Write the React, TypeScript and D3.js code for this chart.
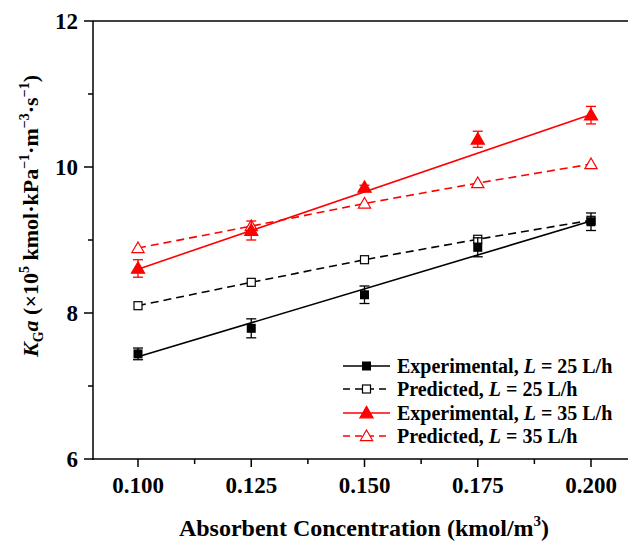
import * as d3 from "d3";

const concentrations = [0.1, 0.125, 0.15, 0.175, 0.2];

const expL25 = [7.44, 7.79, 8.25, 8.9, 9.25];
const expL25Err = [0.08, 0.13, 0.12, 0.13, 0.12];
const predL25 = [8.1, 8.42, 8.73, 9.01, 9.27];

const expL35 = [8.61, 9.13, 9.72, 10.38, 10.71];
const expL35Err = [0.12, 0.13, 0.03, 0.11, 0.12];
const predL35 = [8.89, 9.19, 9.5, 9.78, 10.04];

// linear fits drawn through the experimental points (values at x = 0.1 and 0.2)
const fitL25 = [7.4, 9.26];
const fitL35 = [8.6, 10.72];

const xTicks = [0.1, 0.125, 0.15, 0.175, 0.2];
const xMinor = [0.1125, 0.1375, 0.1625, 0.1875];
const yTicks = [6, 8, 10, 12];
const yMinor = [7, 9, 11];

const legendLabels = ["Experimental", "Predicted", "Experimental", "Predicted"];
const legendL = ["25", "25", "35", "35"];

const W = 628;
const H = 547;
const font = "'Times New Roman', 'Liberation Serif', serif";

export default function App() {
  const x = d3.scaleLinear().domain([0.1, 0.2]).range([138, 591]);
  const y = d3.scaleLinear().domain([6, 12]).range([459, 21]);
  const line = d3
    .line<[number, number]>()
    .x((d) => x(d[0]))
    .y((d) => y(d[1]));

  const series = [
    { vals: predL25, color: "#000", dashed: true, marker: "sqOpen" },
    { vals: predL35, color: "#ff0000", dashed: true, marker: "triOpen" },
    { vals: expL25, err: expL25Err, fit: fitL25, color: "#000", dashed: false, marker: "sq" },
    { vals: expL35, err: expL35Err, fit: fitL35, color: "#ff0000", dashed: false, marker: "tri" },
  ];

  const marker = (kind: string, cx: number, cy: number, color: string, key?: any) => {
    if (kind === "sq")
      return <rect key={key} x={cx - 4.5} y={cy - 4.5} width={9} height={9} fill={color} />;
    if (kind === "sqOpen")
      return (
        <rect key={key} x={cx - 4} y={cy - 4} width={8} height={8} fill="white" stroke={color} strokeWidth={1.2} />
      );
    const tri = d3.symbol().type(d3.symbolTriangle).size(kind === "tri" ? 75 : 65)();
    return (
      <path
        key={key}
        d={tri}
        transform={`translate(${cx},${cy + 1})`}
        fill={kind === "tri" ? color : "white"}
        stroke={color}
        strokeWidth={1.2}
      />
    );
  };

  const legendSeries = [series[2], series[0], series[3], series[1]];
  const legendY = [366, 389, 413, 436];

  return (
    <svg
      width={W}
      height={H}
      style={{ position: "absolute", left: 0, top: 0, background: "white", fontFamily: font }}
    >
      {/* axes */}
      <line x1={93} x2={W} y1={21} y2={21} stroke="#000" strokeWidth={1.5} />
      <line x1={93} x2={93} y1={21} y2={459.75} stroke="#000" strokeWidth={1.5} />
      <line x1={92.25} x2={W} y1={459} y2={459} stroke="#000" strokeWidth={1.5} />
      {yTicks.map((t) => (
        <g key={t}>
          <line x1={84} x2={93} y1={y(t)} y2={y(t)} stroke="#000" strokeWidth={1.5} />
          <text x={78} y={y(t) + 8} textAnchor="end" fontSize={23} fontWeight="bold">
            {t}
          </text>
        </g>
      ))}
      {yMinor.map((t) => (
        <line key={t} x1={88} x2={93} y1={y(t)} y2={y(t)} stroke="#000" strokeWidth={1.5} />
      ))}
      {xTicks.map((t) => (
        <g key={t}>
          <line x1={x(t)} x2={x(t)} y1={459} y2={467} stroke="#000" strokeWidth={1.5} />
          <text x={x(t)} y={493} textAnchor="middle" fontSize={23} fontWeight="bold">
            {d3.format(".3f")(t)}
          </text>
        </g>
      ))}
      {xMinor.map((t) => (
        <line key={t} x1={x(t)} x2={x(t)} y1={459} y2={464} stroke="#000" strokeWidth={1.5} />
      ))}

      {/* axis titles */}
      <text x={364} y={536} textAnchor="middle" fontSize={24} fontWeight="bold">
        Absorbent Concentration (kmol/m
        <tspan fontSize={15} dy={-10}>3</tspan>
        <tspan dy={10}>)</tspan>
      </text>
      <text transform="translate(38,216) rotate(-90)" textAnchor="middle" fontSize={22} fontWeight="bold">
        <tspan fontStyle="italic">K</tspan>
        <tspan fontSize={14} dy={5}>G</tspan>
        <tspan fontStyle="italic" dy={-5}>a</tspan>
        <tspan> (×10</tspan>
        <tspan fontSize={14} dy={-9}>5</tspan>
        <tspan dy={9}> kmol·kPa</tspan>
        <tspan fontSize={14} dy={-9}>−1</tspan>
        <tspan dy={9}>·m</tspan>
        <tspan fontSize={14} dy={-9}>−3</tspan>
        <tspan dy={9}>·s</tspan>
        <tspan fontSize={14} dy={-9}>−1</tspan>
        <tspan dy={9}>)</tspan>
      </text>

      {/* series */}
      {series.map((s, i) => (
        <g key={i}>
          <path
            d={
              s.fit
                ? line([
                    [0.1, s.fit[0]],
                    [0.2, s.fit[1]],
                  ])!
                : line(concentrations.map((c, j) => [c, s.vals[j]] as [number, number]))!
            }
            fill="none"
            stroke={s.color}
            strokeWidth={1.6}
            strokeDasharray={s.dashed ? "8,5" : undefined}
          />
          {s.err &&
            concentrations.map((c, j) => {
              const cx = x(c);
              const t = y(s.vals[j] + s.err![j]);
              const b = y(s.vals[j] - s.err![j]);
              return (
                <g key={j} stroke={s.color} strokeWidth={1.3}>
                  <line x1={cx} x2={cx} y1={t} y2={b} />
                  <line x1={cx - 5} x2={cx + 5} y1={t} y2={t} />
                  <line x1={cx - 5} x2={cx + 5} y1={b} y2={b} />
                </g>
              );
            })}
          {concentrations.map((c, j) => marker(s.marker, x(c), y(s.vals[j]), s.color, j))}
        </g>
      ))}

      {/* legend */}
      {legendSeries.map((s, i) => (
        <g key={i}>
          <line
            x1={343}
            x2={390}
            y1={legendY[i]}
            y2={legendY[i]}
            stroke={s.color}
            strokeWidth={1.6}
            strokeDasharray={s.dashed ? "7,5" : undefined}
          />
          {marker(s.marker, 366.5, legendY[i], s.color)}
          <text x={397} y={legendY[i] + 7} fontSize={20} fontWeight="bold">
            {legendLabels[i]}, <tspan fontStyle="italic">L</tspan> = {legendL[i]} L/h
          </text>
        </g>
      ))}
    </svg>
  );
}
